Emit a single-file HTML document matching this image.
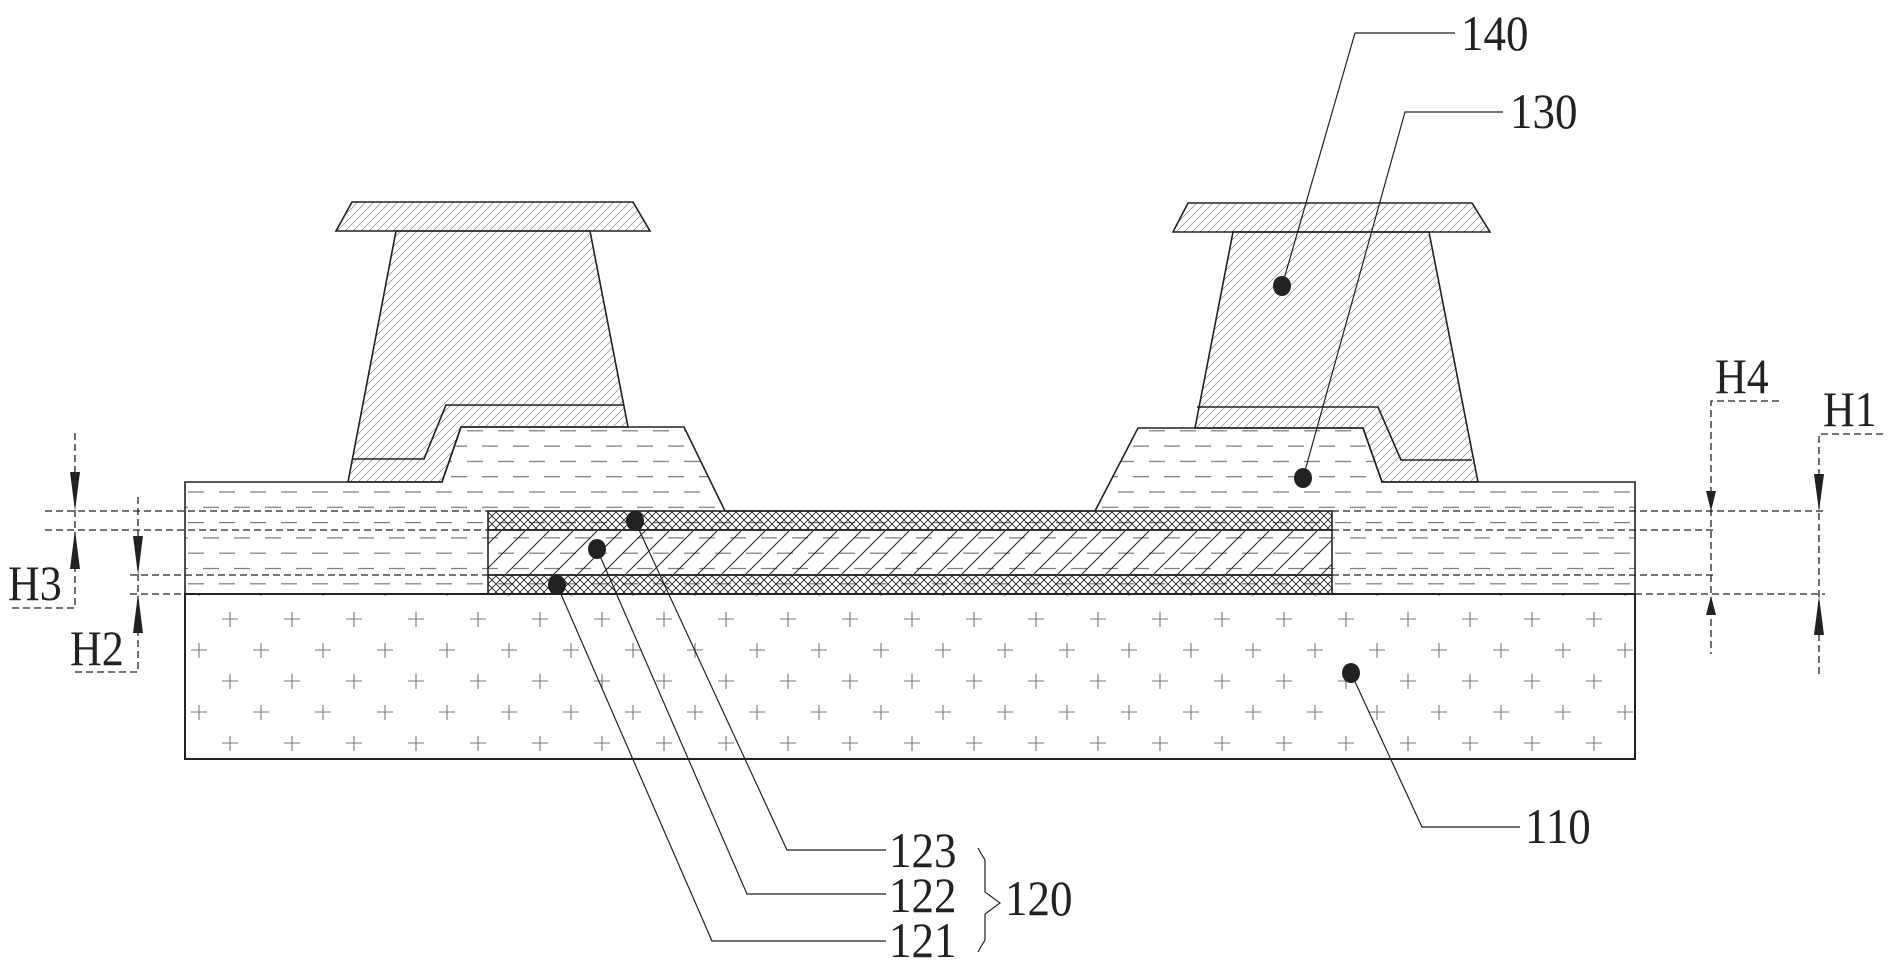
<!DOCTYPE html>
<html><head><meta charset="utf-8"><style>
html,body{margin:0;padding:0;background:#fff;}
svg{display:block;}
text{font-family:"Liberation Serif",serif;fill:#222;}
</style></head><body>
<svg width="1890" height="975" viewBox="0 0 1890 975" xmlns="http://www.w3.org/2000/svg">
<defs>
<pattern id="h140" patternUnits="userSpaceOnUse" width="8" height="8">
<path d="M-2,10 L10,-2 M-2,2 L2,-2 M6,10 L10,6" stroke="#888" stroke-width="0.7"/>
</pattern>
<pattern id="h122" patternUnits="userSpaceOnUse" width="24" height="24">
<path d="M-2,26 L26,-2 M-2,2 L2,-2 M22,26 L26,22" stroke="#222" stroke-width="1"/>
</pattern>
<pattern id="xh" patternUnits="userSpaceOnUse" width="8" height="8">
<path d="M0,0 L8,8 M8,0 L0,8" stroke="#222" stroke-width="0.9"/>
</pattern>
<pattern id="dash" patternUnits="userSpaceOnUse" x="0" y="485" width="31" height="30.6">
<line x1="2" y1="7" x2="18" y2="7" stroke="#777" stroke-width="1.2"/>
<line x1="17" y1="22.3" x2="33" y2="22.3" stroke="#777" stroke-width="1.2"/>
<line x1="-14" y1="22.3" x2="2" y2="22.3" stroke="#777" stroke-width="1.2"/>
</pattern>
<pattern id="plus" patternUnits="userSpaceOnUse" x="167" y="603" width="62" height="62">
<path d="M55,16 h16 M63,9 v15 M-7,16 h16 M1,9 v15 M24,47 h16 M32,40 v15" stroke="#777" stroke-width="1.1"/>
</pattern>
</defs>

<rect x="185" y="594" width="1450" height="165" fill="url(#plus)" stroke="#222" stroke-width="2"/>

<polygon points="185,482 442,482 461,427 684,427 725,511 1095,511 1138,428 1363,428 1382,482 1635,482 1635,594 185,594" fill="url(#dash)" stroke="#222" stroke-width="1.6"/>

<rect x="488" y="511" width="844" height="19" fill="url(#xh)" stroke="#222" stroke-width="1.6"/>
<rect x="488" y="530" width="844" height="45" fill="url(#h122)" stroke="#222" stroke-width="1.6"/>
<rect x="488" y="575" width="844" height="19" fill="url(#xh)" stroke="#222" stroke-width="1.6"/>

<polygon points="352,202 633,202 650,231 336,231" fill="url(#h140)" stroke="#222" stroke-width="1.6"/>
<polygon points="396,231 348,482 442,482 461,427 628,427 590,231" fill="url(#h140)" stroke="#222" stroke-width="1.6"/>
<polyline points="352,459 424,459 446,405 624,405" fill="none" stroke="#222" stroke-width="1.6"/>

<polygon points="1188,203 1472,203 1490,232 1173,232" fill="url(#h140)" stroke="#222" stroke-width="1.6"/>
<polygon points="1233,232 1195,428 1363,428 1382,482 1478,482 1429,232" fill="url(#h140)" stroke="#222" stroke-width="1.6"/>
<polyline points="1197,407 1378,407 1401,460 1472,460" fill="none" stroke="#222" stroke-width="1.6"/>

<g stroke="#222" stroke-width="1.3" stroke-dasharray="7,4" fill="none">
<line x1="45" y1="511" x2="488" y2="511"/>
<line x1="45" y1="530" x2="488" y2="530"/>
<line x1="130" y1="575" x2="488" y2="575"/>
<line x1="130" y1="594" x2="185" y2="594"/>
<line x1="1332" y1="511" x2="1825" y2="511"/>
<line x1="1332" y1="530" x2="1715" y2="530"/>
<line x1="1332" y1="575" x2="1715" y2="575"/>
<line x1="1635" y1="594" x2="1825" y2="594"/>
<polyline points="75,433 75,608 10,608"/>
<polyline points="138,497 138,672 71,672"/>
<polyline points="1779,401 1711,401 1711,654"/>
<polyline points="1883,434 1819,434 1819,678"/>
</g>
<g fill="#222">
<polygon points="70,472 80,472 75,511"/>
<polygon points="70,569 80,569 75,530"/>
<polygon points="133,536 143,536 138,575"/>
<polygon points="133,633 143,633 138,594"/>
<polygon points="1706,491 1716,491 1711,511"/>
<polygon points="1706,615 1716,615 1711,596"/>
<polygon points="1814,474 1824,474 1819,511"/>
<polygon points="1814,635 1824,635 1819,596"/>
</g>
<g font-size="50">
<text x="8" y="600" transform="translate(8,0) scale(0.88,1) translate(-8,0)">H3</text>
<text x="70" y="665" transform="translate(70,0) scale(0.88,1) translate(-70,0)">H2</text>
<text x="1715" y="393" transform="translate(1715,0) scale(0.88,1) translate(-1715,0)">H4</text>
<text x="1823" y="426" transform="translate(1823,0) scale(0.88,1) translate(-1823,0)">H1</text>
</g>

<g stroke="#222" stroke-width="1.2" fill="none">
<polyline points="1282,286 1355,33 1455,33"/>
<polyline points="1303,478 1405,112 1503,112"/>
<polyline points="1351,673 1422,827 1520,827"/>
<polyline points="635,521 787,850 886,850"/>
<polyline points="597,549 747,894 886,894"/>
<polyline points="557,585 712,941 886,941"/>
<path d="M978,848 L985,860 L985,892 L1000,903 L985,914 L985,940 L978,952"/>
</g>
<g fill="#222">
<ellipse cx="1282" cy="286" rx="9" ry="10"/>
<ellipse cx="1303" cy="478" rx="9" ry="10"/>
<ellipse cx="1351" cy="673" rx="9" ry="10"/>
<ellipse cx="635" cy="521" rx="9" ry="10"/>
<ellipse cx="597" cy="549" rx="9" ry="10"/>
<ellipse cx="557" cy="585" rx="9" ry="10"/>
</g>
<g font-size="50">
<text x="1461" y="50" transform="translate(1461,0) scale(0.9,1) translate(-1461,0)">140</text>
<text x="1510" y="128" transform="translate(1510,0) scale(0.9,1) translate(-1510,0)">130</text>
<text x="1525" y="843" transform="translate(1525,0) scale(0.9,1) translate(-1525,0)">110</text>
<text x="889" y="867" transform="translate(889,0) scale(0.9,1) translate(-889,0)">123</text>
<text x="889" y="912" transform="translate(889,0) scale(0.9,1) translate(-889,0)">122</text>
<text x="889" y="957" transform="translate(889,0) scale(0.9,1) translate(-889,0)">121</text>
<text x="1005" y="915" transform="translate(1005,0) scale(0.9,1) translate(-1005,0)">120</text>
</g>
</svg>
</body></html>
